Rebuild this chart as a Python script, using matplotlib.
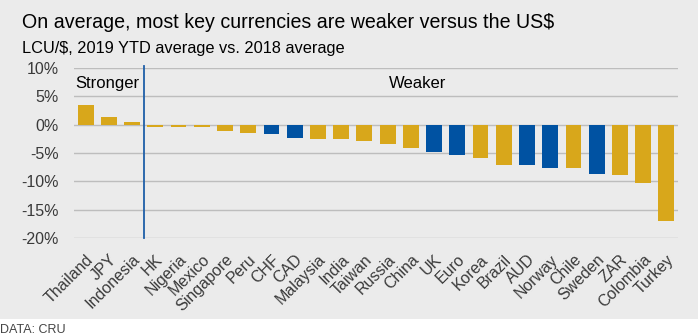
import matplotlib.pyplot as plt
from matplotlib.patches import Rectangle

currencies = ['Thailand', 'JPY', 'Indonesia', 'HK', 'Nigeria', 'Mexico', 'Singapore',
              'Peru', 'CHF', 'CAD', 'Malaysia', 'India', 'Taiwan', 'Russia', 'China',
              'UK', 'Euro', 'Korea', 'Brazil', 'AUD', 'Norway', 'Chile', 'Sweden',
              'ZAR', 'Colombia', 'Turkey']
changes = [3.5, 1.3, 0.5, -0.35, -0.35, -0.35, -1.1, -1.4, -1.7, -2.4, -2.6, -2.6, -2.8,
           -3.4, -4.1, -4.8, -5.3, -5.8, -7.2, -7.2, -7.6, -7.7, -8.7, -8.9, -10.3, -17.0]
developed = ['CHF', 'CAD', 'UK', 'Euro', 'AUD', 'Norway', 'Sweden']
yticks = [10, 5, 0, -5, -10, -15, -20]

GOLD = '#D8A71B'
BLUE = '#0052A2'
BG = '#EBEBEB'

plt.rcParams['font.family'] = ['Liberation Sans', 'DejaVu Sans']

W, H = 698, 335
fig = plt.figure(figsize=(W / 100, H / 100), dpi=100)
fig.patches.append(Rectangle((0, 16 / H), 1, 1 - 16 / H, transform=fig.transFigure,
                             facecolor=BG, edgecolor='none', zorder=-10))

ax = fig.add_axes([74 / W, 97 / H, (678 - 74) / W, 170 / H])
ax.set_facecolor('none')

colors = [BLUE if c in developed else GOLD for c in currencies]
x = range(len(currencies))
ax.bar(x, changes, width=0.68, color=colors, zorder=3)

ax.set_xlim(-0.5, len(currencies) - 0.5)
ax.set_ylim(-20, 10)
ax.set_yticks(yticks)
ax.set_yticklabels([f'{v}%' for v in yticks], fontsize=11.5, color='#3A3A3A')
ax.set_xticks(list(x))
ax.set_xticklabels(currencies, rotation=45, ha='right', rotation_mode='anchor',
                   fontsize=11.5, color='#3A3A3A')
ax.tick_params(length=0)
ax.tick_params(axis='y', pad=11)
ax.tick_params(axis='x', pad=10)
ax.grid(axis='y', color='#BDBDBD', linewidth=1, zorder=0)
for s in ax.spines.values():
    s.set_visible(False)

ax.plot([2.52, 2.52], [-20, 10.4], color='#1F5FA8', linewidth=1.3, clip_on=False, zorder=4)
ax.text(-0.45, 7.3, 'Stronger', fontsize=12, va='center', ha='left')
ax.text(14.3, 7.3, 'Weaker', fontsize=12, va='center', ha='center')

fig.text(22 / W, 1 - 22 / H, 'On average, most key currencies are weaker versus the US$',
         fontsize=14.1, va='center', ha='left')
fig.text(22 / W, 1 - 48 / H, 'LCU/$, 2019 YTD average vs. 2018 average',
         fontsize=11.75, va='center', ha='left')
fig.text(0, 5 / H, 'DATA: CRU', fontsize=9, va='center', ha='left', color='#444444')

fig.savefig('out.png', dpi=100)
